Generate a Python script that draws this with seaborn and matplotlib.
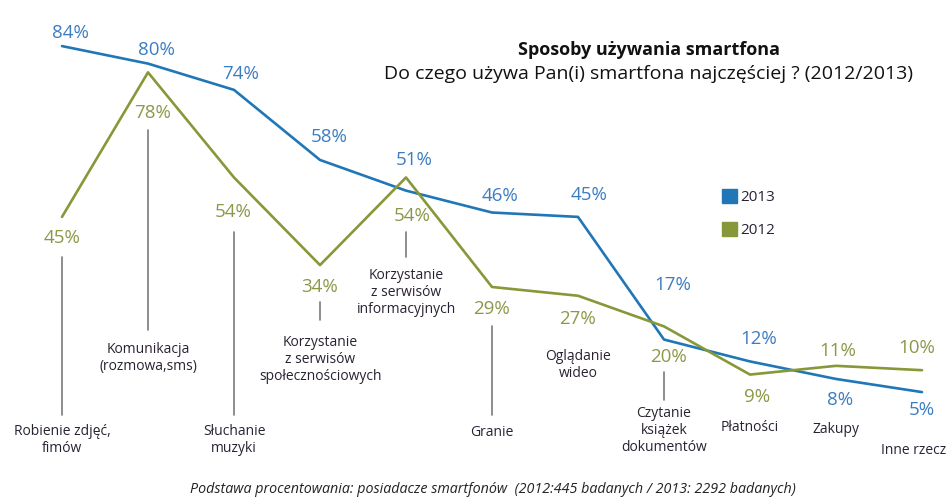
import matplotlib
matplotlib.use("Agg")
import matplotlib.pyplot as plt
import seaborn as sns
import pandas as pd

categories = ["Robienie zdjęć,\nfimów", "Komunikacja\n(rozmowa,sms)", "Słuchanie\nmuzyki",
              "Korzystanie\nz serwisów\nspołecznościowych", "Korzystanie\nz serwisów\ninformacyjnych",
              "Granie", "Oglądanie\nwideo", "Czytanie\nksiążek\ndokumentów", "Płatności", "Zakupy",
              "Inne rzecz"]
v2013 = [84, 80, 74, 58, 51, 46, 45, 17, 12, 8, 5]
v2012 = [45, 78, 54, 34, 54, 29, 27, 20, 9, 11, 10]
years = ["2013", "2012"]

BLUE = "#1f77b8"
GREEN = "#869838"
BLUE_T = "#3c7dc2"
GREEN_T = "#8c9848"
TXT = "#2a2232"

sns.set_theme(style="white")
plt.rcParams["font.family"] = ["Open Sans", "DejaVu Sans"]

rows = []
for i, c in enumerate(categories):
    rows.append({"idx": i, "cat": c, "year": "2013", "val": v2013[i]})
    rows.append({"idx": i, "cat": c, "year": "2012", "val": v2012[i]})
df = pd.DataFrame(rows)

fig = plt.figure(figsize=(9.49, 4.98), dpi=100)
ax = fig.add_axes([0, 0, 1, 1])

# pixel <-> data helpers (layout only)
X0, DX = 62.0, 86.0
Y0, DY = 414.0, 4.38
def px2y(py):
    return (Y0 - py) / DY

sns.lineplot(data=df, x="idx", y="val", hue="year", hue_order=years,
             palette={"2013": BLUE, "2012": GREEN}, linewidth=1.9,
             sort=False, legend=False, ax=ax)

ax.set_xlim(-X0 / DX, (949 - X0) / DX)
ax.set_ylim(px2y(498), px2y(0))
ax.axis("off")

# value label offsets (points): positive = above / right
off2013 = [9.5, 10, 11.5, 16.5, 22, 12, 16, 39, 16.5, -15, -13]
off2012 = [-15, -29, -25, -16, -28, -16, -17, -22, -16, 11, 16]
dx2013 = [6, 6, 4.5, 6.5, 6, 6, 8, 6.5, 6, 3, 0]
dx2012 = [0, 3.5, -0.5, 0, 4.5, 0, 0, 3, 5, 1.5, -3.5]
for i in range(len(categories)):
    ax.annotate(f"{v2013[i]}%", (i, v2013[i]), xytext=(dx2013[i], off2013[i]),
                textcoords="offset points", ha="center", va="center", fontsize=13.5, color=BLUE_T)
    ax.annotate(f"{v2012[i]}%", (i, v2012[i]), xytext=(dx2012[i], off2012[i]),
                textcoords="offset points", ha="center", va="center", fontsize=13.5, color=GREEN_T)

# category labels: (pixel y of label top, vertical line from, to) in pixels
lab_top = [424, 342, 424, 335, 268, 425, 349, 406, 420, 422, 443]
line_rng = [(257, 415), (130, 330), (232, 415), (302, 320), (232, 257), (326, 415),
            None, (372, 400), None, None, None]
for i, c in enumerate(categories):
    if i == len(categories) - 1:
        ax.text((946 - X0) / DX, px2y(lab_top[i]), c, ha="right", va="top", fontsize=10,
                color=TXT, linespacing=1.2)
    else:
        ax.text(i, px2y(lab_top[i]), c, ha="center", va="top", fontsize=10,
                color=TXT, linespacing=1.2)
    if line_rng[i] is not None:
        a, b = line_rng[i]
        ax.plot([i, i], [px2y(a), px2y(b)], color="#7a7a7a", linewidth=1.2)

fig.text(649 / 949, 1 - 50 / 498, "Sposoby używania smartfona", ha="center", va="center",
         fontsize=13, fontweight="bold", color="#111111")
fig.text(649 / 949, 1 - 74 / 498, "Do czego używa Pan(i) smartfona najczęściej ? (2012/2013)",
         ha="center", va="center", fontsize=14, color="#111111")

# legend
for k, (yy, col, lab) in enumerate([(196, BLUE, "2013"), (229, GREEN, "2012")]):
    fig.patches.append(plt.Rectangle((722 / 949, 1 - (yy + 7) / 498), 15 / 949, 14 / 498,
                                     transform=fig.transFigure, color=col))
    fig.text(740 / 949, 1 - (yy + 1) / 498, lab, ha="left", va="center", fontsize=11, color=TXT)

fig.text(493 / 949, 1 - 489 / 498,
         "Podstawa procentowania: posiadacze smartfonów  (2012:445 badanych / 2013: 2292 badanych)",
         ha="center", va="center", fontsize=10.3, style="italic", color="#222222")

fig.savefig("out.png", dpi=100, facecolor="white")
